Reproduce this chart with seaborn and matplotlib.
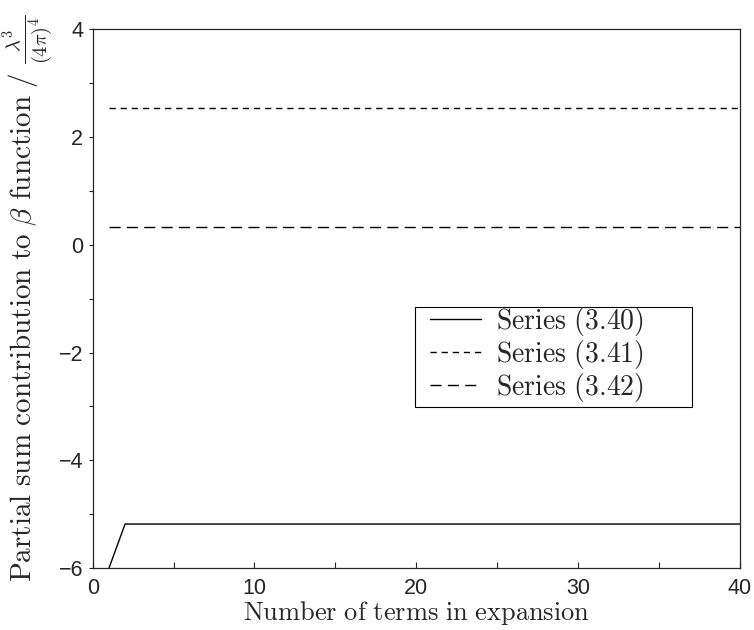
import pandas as pd
import seaborn as sns
import matplotlib.pyplot as plt
from matplotlib.patches import Rectangle
from matplotlib.ticker import MultipleLocator

# Partial sums vs number of terms
terms = list(range(1, 41))
series_340 = [-6.00, -5.18, -5.18, -5.18, -5.18, -5.18, -5.18, -5.18, -5.18, -5.18,
              -5.18, -5.18, -5.18, -5.18, -5.18, -5.18, -5.18, -5.18, -5.18, -5.18,
              -5.18, -5.18, -5.18, -5.18, -5.18, -5.18, -5.18, -5.18, -5.18, -5.18,
              -5.18, -5.18, -5.18, -5.18, -5.18, -5.18, -5.18, -5.18, -5.18, -5.18]
series_341 = [2.54, 2.54, 2.54, 2.54, 2.54, 2.54, 2.54, 2.54, 2.54, 2.54,
              2.54, 2.54, 2.54, 2.54, 2.54, 2.54, 2.54, 2.54, 2.54, 2.54,
              2.54, 2.54, 2.54, 2.54, 2.54, 2.54, 2.54, 2.54, 2.54, 2.54,
              2.54, 2.54, 2.54, 2.54, 2.54, 2.54, 2.54, 2.54, 2.54, 2.54]
series_342 = [0.32, 0.32, 0.32, 0.32, 0.32, 0.32, 0.32, 0.32, 0.32, 0.32,
              0.32, 0.32, 0.32, 0.32, 0.32, 0.32, 0.32, 0.32, 0.32, 0.32,
              0.32, 0.32, 0.32, 0.32, 0.32, 0.32, 0.32, 0.32, 0.32, 0.32,
              0.32, 0.32, 0.32, 0.32, 0.32, 0.32, 0.32, 0.32, 0.32, 0.32]
labels = [r'$\mathrm{Series\ (3.40)}$', r'$\mathrm{Series\ (3.41)}$', r'$\mathrm{Series\ (3.42)}$']

df = pd.DataFrame({
    'terms': terms * 3,
    'value': series_340 + series_341 + series_342,
    'series': [labels[0]] * 40 + [labels[1]] * 40 + [labels[2]] * 40,
})

sns.set_style('ticks')
plt.rcParams['font.family'] = ['Liberation Sans', 'DejaVu Sans']
plt.rcParams['mathtext.fontset'] = 'cm'

fig = plt.figure(figsize=(7.54, 6.3), dpi=100)
ax = fig.add_axes([0.123, 0.098, 0.858, 0.856])

dashes = {labels[0]: '', labels[1]: (4.5, 3.5), labels[2]: (8, 4.5)}
sns.lineplot(data=df, x='terms', y='value', style='series', dashes=dashes,
             color='black', linewidth=1.0, ax=ax)

ax.set_xlim(0, 40)
ax.set_ylim(-6, 4)
ax.xaxis.set_major_locator(MultipleLocator(10))
ax.xaxis.set_minor_locator(MultipleLocator(5))
ax.yaxis.set_major_locator(MultipleLocator(2))
ax.yaxis.set_minor_locator(MultipleLocator(1))
ax.tick_params(axis='x', which='both', direction='in', length=4, width=0.8, labelsize=15.5, pad=7)
ax.tick_params(axis='y', which='both', direction='out', length=3, width=0.8, labelsize=15.5, pad=4)
for s in ax.spines.values():
    s.set_linewidth(0.9)

ax.set_xlabel(r'$\mathrm{Number\ of\ terms\ in\ expansion}$', fontsize=19, labelpad=0)
ax.set_ylabel(r'$\mathrm{Partial\ sum\ contribution\ to\ }\beta\mathrm{\ function\ /\ }\frac{\lambda^3}{(4\pi)^4}$',
              fontsize=21, labelpad=2)

# legend: entries without frame, box drawn separately (wide right margin as in original)
leg = ax.legend(loc='center left', bbox_to_anchor=(0.521, 0.397), fontsize=20,
                frameon=False, handlelength=1.85, handletextpad=0.55,
                labelspacing=0.0, borderpad=0, borderaxespad=0)
leg.set_title(None)
ax.add_patch(Rectangle((0.4977, 0.2987), 0.4293, 0.1853, transform=ax.transAxes,
                       fill=False, edgecolor='black', linewidth=0.8, zorder=5))

fig.savefig('out.png', dpi=100)
